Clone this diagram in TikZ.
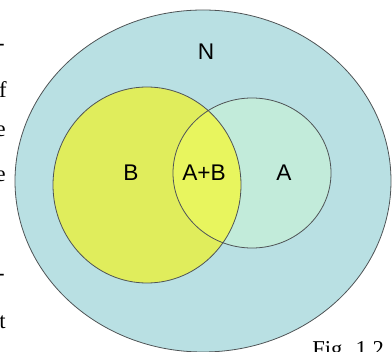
\documentclass[tikz,border=0pt]{standalone}
\usepackage{fontspec}
\setmainfont{Liberation Serif}
\setsansfont{Liberation Sans}
\usetikzlibrary{positioning}
\definecolor{ink}      {HTML}{4F5456}
\definecolor{outerfill}{HTML}{B9E0E3}
\definecolor{bfill}    {HTML}{E0ED5C}
\definecolor{afill}    {HTML}{C2EBDA}
\definecolor{abfill}   {HTML}{E8F55E}
\tikzset{
  % --- sets
  setline/.style = {draw=ink, line width=0.6pt},
  % --- texts
  setlbl/.style  = {font=\fontsize{17}{20}\selectfont\sffamily, inner sep=0pt},
  margin/.style  = {font=\fontsize{17}{20}\selectfont, inner sep=0pt, anchor=base east},
}

\begin{document}
\begin{tikzpicture}[x=0.75pt,y=-0.75pt]
  \useasboundingbox (0,0) rectangle (392,352);
  \clip (0,0) rectangle (392,352);

  % universe N
  \draw[setline, fill=outerfill] (203,181) ellipse [x radius=188, y radius=171];

  % sets B and A, with their overlap
  \fill[bfill] (147,185) ellipse [x radius=94, y radius=98];
  \fill[afill] (252,173) ellipse [x radius=79, y radius=75];
  \begin{scope}
    \clip (147,185) ellipse [x radius=94, y radius=98];
    \fill[abfill] (252,173) ellipse [x radius=79, y radius=75];
  \end{scope}
  \draw[setline] (147,185) ellipse [x radius=94, y radius=98];
  \draw[setline] (252,173) ellipse [x radius=79, y radius=75];

  % labels
  \node[setlbl] (N)  at (206,52)  {N};
  \node[setlbl] (B)  at (131,173) {B};
  \node[setlbl] (AB) at (204,173) {A+B};
  \node[setlbl] (A)  at (284,173) {A};

  % ends of the running text on the left
  \node[margin] (l1) at (5,51)  {-};
  \node[margin] (l2) at (7,98)  {f};
  \node[margin] (l3) at (6,137) {e};
  \node[margin] (l4) at (6,182) {e};
  \node[margin] (l5) at (5,281) {-};
  \node[margin] (l6) at (6,328) {t};

  % caption
  \node[font=\fontsize{17}{20}\selectfont, inner sep=0pt, anchor=base west]
        (fig) at (312,356) {Fig. 1.2};
\end{tikzpicture}
\end{document}
